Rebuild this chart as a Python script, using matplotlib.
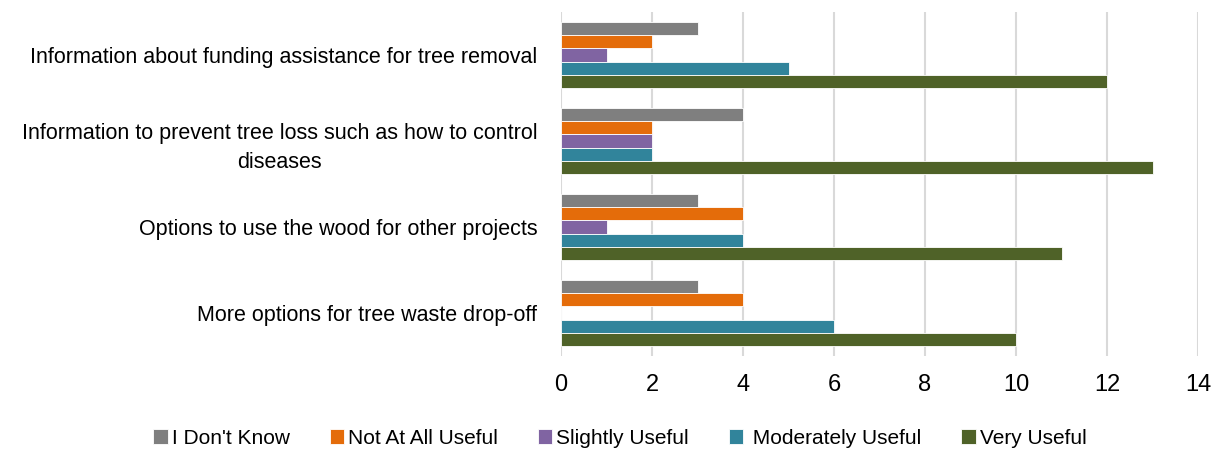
import numpy as np
import matplotlib.pyplot as plt
from matplotlib import font_manager

# Datos
categories = [
    "Information about funding assistance for tree removal",
    "Information to prevent tree loss such as how to control\ndiseases",
    "Options to use the wood for other projects",
    "More options for tree waste drop-off",
]
series_names = ["I Don't Know", "Not At All Useful", "Slightly Useful",
                " Moderately Useful", "Very Useful"]
dont_know = [3, 4, 3, 3]
not_useful = [2, 2, 4, 4]
slightly = [1, 2, 1, 0]
moderately = [5, 2, 4, 6]
very = [12, 13, 11, 10]
colors = ["#7F7F7F", "#E46C0A", "#8064A2", "#31849B", "#4F6228"]

names = {f.name for f in font_manager.fontManager.ttflist}
fam = "Liberation Sans Narrow" if "Liberation Sans Narrow" in names else "Liberation Sans"
plt.rcParams['font.family'] = [fam, 'DejaVu Sans']

fig = plt.figure(figsize=(12.2, 4.54), dpi=100)
ax = fig.add_axes([561 / 1220, 1 - 356 / 454, 637 / 1220, 344 / 454])

y = np.arange(len(categories))[::-1]
h = 0.155
all_series = [dont_know, not_useful, slightly, moderately, very]
for i, (vals, name, c) in enumerate(zip(all_series, series_names, colors)):
    ax.barh(y + (2 - i) * h, vals, height=h, color=c, label=name,
            edgecolor="white", linewidth=0.6, zorder=3)

ax.set_xlim(0, 14)
ax.set_ylim(-0.5, 3.5)
ax.set_xticks(range(0, 15, 2))
ax.set_yticks(y)
ax.set_yticklabels(categories, fontsize=15.5, multialignment='center',
                   linespacing=1.5)
ax.tick_params(axis='x', labelsize=17, length=0, pad=13)
ax.tick_params(axis='y', length=0, pad=17)
ax.grid(axis='x', color="#D9D9D9", linewidth=1.5, zorder=0)
for s in ax.spines.values():
    s.set_visible(False)

ax.legend(loc='center', bbox_to_anchor=(620 / 1220, 1 - 438 / 454),
          bbox_transform=fig.transFigure, ncol=5, frameon=False,
          fontsize=15, handlelength=0.7, handleheight=0.7,
          handletextpad=0.2, columnspacing=1.9)

plt.savefig("out.png", dpi=100)
